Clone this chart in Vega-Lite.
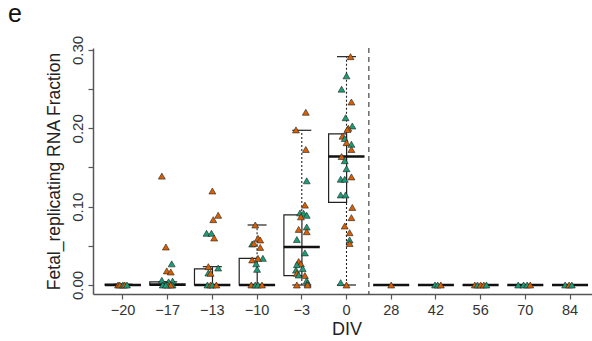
{
  "$schema": "https://vega.github.io/schema/vega-lite/v6.json",
  "width": 499,
  "height": 246,
  "autosize": {"type": "none"},
  "padding": {"left": 93, "top": 48, "right": 0, "bottom": 47},
  "background": "white",
  "title": {"text": "e", "anchor": "start", "frame": "group", "dx": -85, "offset": -12, "baseline": "alphabetic", "fontSize": 25, "font": "Liberation Sans", "fontWeight": "normal", "color": "#111"},
  "config": {
    "view": {"stroke": null},
    "axis": {"domainColor": "#555", "domainWidth": 1.5, "tickColor": "#555", "tickWidth": 1.2, "tickSize": 5, "grid": false, "labelFont": "Liberation Sans", "titleFont": "Liberation Sans", "labelColor": "#333", "titleColor": "#222", "titleFontWeight": "normal"}
  },
  "datasets": {
    "boxes": [
      {"DIV": "-20", "lo": 0, "q1": 0, "med": 0, "q3": 0.001, "hi": 0.001},
      {"DIV": "-17", "lo": 0, "q1": 0, "med": 0.0005, "q3": 0.004, "hi": 0.004},
      {"DIV": "-13", "lo": 0, "q1": 0, "med": 0, "q3": 0.0205, "hi": 0.0234},
      {"DIV": "-10", "lo": 0, "q1": 0, "med": 0, "q3": 0.034, "hi": 0.0766},
      {"DIV": "-3", "lo": 0, "q1": 0.0119, "med": 0.0485, "q3": 0.0894, "hi": 0.1975},
      {"DIV": "0", "lo": 0, "q1": 0.1056, "med": 0.164, "q3": 0.193, "hi": 0.2915},
      {"DIV": "28", "lo": 0, "q1": 0, "med": 0, "q3": 0, "hi": 0},
      {"DIV": "42", "lo": 0, "q1": 0, "med": 0, "q3": 0, "hi": 0},
      {"DIV": "56", "lo": 0, "q1": 0, "med": 0, "q3": 0, "hi": 0},
      {"DIV": "70", "lo": 0, "q1": 0, "med": 0, "q3": 0, "hi": 0},
      {"DIV": "84", "lo": 0, "q1": 0, "med": 0, "q3": 0, "hi": 0}
    ],
    "divider": [{"DIV": "0"}],
    "points": [
      {"DIV": "-20", "frac": 0, "line": "o", "jit": -0.11},
      {"DIV": "-20", "frac": 0, "line": "o", "jit": -0.07},
      {"DIV": "-20", "frac": 0, "line": "t", "jit": 0},
      {"DIV": "-20", "frac": 0, "line": "o", "jit": 0.04},
      {"DIV": "-20", "frac": 0, "line": "t", "jit": 0.09},
      {"DIV": "-17", "frac": 0.139, "line": "o", "jit": -0.13},
      {"DIV": "-17", "frac": 0.0485, "line": "o", "jit": -0.04},
      {"DIV": "-17", "frac": 0.027, "line": "t", "jit": 0.09},
      {"DIV": "-17", "frac": 0.018, "line": "o", "jit": -0.02},
      {"DIV": "-17", "frac": 0.0166, "line": "o", "jit": 0.07},
      {"DIV": "-17", "frac": 0.006, "line": "t", "jit": -0.13},
      {"DIV": "-17", "frac": 0.005, "line": "t", "jit": 0.11},
      {"DIV": "-17", "frac": 0.004, "line": "t", "jit": 0.02},
      {"DIV": "-17", "frac": 0, "line": "t", "jit": -0.11},
      {"DIV": "-17", "frac": 0, "line": "o", "jit": 0},
      {"DIV": "-17", "frac": 0, "line": "t", "jit": 0.11},
      {"DIV": "-17", "frac": 0, "line": "o", "jit": 0.07},
      {"DIV": "-17", "frac": 0, "line": "t", "jit": -0.04},
      {"DIV": "-13", "frac": 0.12, "line": "o", "jit": 0},
      {"DIV": "-13", "frac": 0.089, "line": "o", "jit": 0.13},
      {"DIV": "-13", "frac": 0.0834, "line": "o", "jit": 0.02},
      {"DIV": "-13", "frac": 0.066, "line": "t", "jit": -0.13},
      {"DIV": "-13", "frac": 0.066, "line": "t", "jit": -0.02},
      {"DIV": "-13", "frac": 0.06, "line": "o", "jit": 0.04},
      {"DIV": "-13", "frac": 0.0234, "line": "o", "jit": -0.09},
      {"DIV": "-13", "frac": 0.0217, "line": "t", "jit": 0.13},
      {"DIV": "-13", "frac": 0.0153, "line": "t", "jit": -0.09},
      {"DIV": "-13", "frac": 0.015, "line": "o", "jit": -0.04},
      {"DIV": "-13", "frac": 0, "line": "t", "jit": -0.11},
      {"DIV": "-13", "frac": 0, "line": "o", "jit": -0.04},
      {"DIV": "-13", "frac": 0, "line": "t", "jit": 0},
      {"DIV": "-13", "frac": 0, "line": "o", "jit": 0.09},
      {"DIV": "-10", "frac": 0.0766, "line": "o", "jit": -0.04},
      {"DIV": "-10", "frac": 0.0596, "line": "o", "jit": 0.02},
      {"DIV": "-10", "frac": 0.0575, "line": "o", "jit": 0.07},
      {"DIV": "-10", "frac": 0.0523, "line": "t", "jit": -0.11},
      {"DIV": "-10", "frac": 0.053, "line": "o", "jit": -0.07},
      {"DIV": "-10", "frac": 0.048, "line": "o", "jit": 0.07},
      {"DIV": "-10", "frac": 0.032, "line": "o", "jit": -0.11},
      {"DIV": "-10", "frac": 0.034, "line": "t", "jit": 0.13},
      {"DIV": "-10", "frac": 0.034, "line": "o", "jit": 0.02},
      {"DIV": "-10", "frac": 0.027, "line": "t", "jit": -0.02},
      {"DIV": "-10", "frac": 0.02, "line": "t", "jit": 0},
      {"DIV": "-10", "frac": 0, "line": "o", "jit": -0.13},
      {"DIV": "-10", "frac": 0, "line": "t", "jit": -0.04},
      {"DIV": "-10", "frac": 0, "line": "t", "jit": 0.02},
      {"DIV": "-10", "frac": 0, "line": "o", "jit": 0.11},
      {"DIV": "-3", "frac": 0.2205, "line": "o", "jit": 0.09},
      {"DIV": "-3", "frac": 0.198, "line": "o", "jit": -0.13},
      {"DIV": "-3", "frac": 0.173, "line": "o", "jit": 0.09},
      {"DIV": "-3", "frac": 0.133, "line": "t", "jit": 0.11},
      {"DIV": "-3", "frac": 0.102, "line": "o", "jit": 0.07},
      {"DIV": "-3", "frac": 0.092, "line": "t", "jit": -0.04},
      {"DIV": "-3", "frac": 0.0915, "line": "t", "jit": 0.04},
      {"DIV": "-3", "frac": 0.089, "line": "t", "jit": 0.11},
      {"DIV": "-3", "frac": 0.087, "line": "o", "jit": -0.02},
      {"DIV": "-3", "frac": 0.074, "line": "t", "jit": 0.11},
      {"DIV": "-3", "frac": 0.071, "line": "o", "jit": -0.07},
      {"DIV": "-3", "frac": 0.068, "line": "o", "jit": 0.11},
      {"DIV": "-3", "frac": 0.058, "line": "t", "jit": -0.11},
      {"DIV": "-3", "frac": 0.041, "line": "t", "jit": 0.07},
      {"DIV": "-3", "frac": 0.03, "line": "o", "jit": -0.07},
      {"DIV": "-3", "frac": 0.027, "line": "o", "jit": -0.02},
      {"DIV": "-3", "frac": 0.026, "line": "t", "jit": -0.11},
      {"DIV": "-3", "frac": 0.021, "line": "t", "jit": 0.02},
      {"DIV": "-3", "frac": 0.019, "line": "t", "jit": -0.13},
      {"DIV": "-3", "frac": 0.015, "line": "o", "jit": -0.11},
      {"DIV": "-3", "frac": 0.0128, "line": "t", "jit": -0.07},
      {"DIV": "-3", "frac": 0.012, "line": "o", "jit": 0.07},
      {"DIV": "-3", "frac": 0.0055, "line": "t", "jit": 0.11},
      {"DIV": "-3", "frac": 0.002, "line": "t", "jit": 0.13},
      {"DIV": "-3", "frac": 0, "line": "o", "jit": -0.11},
      {"DIV": "-3", "frac": 0, "line": "o", "jit": 0.13},
      {"DIV": "0", "frac": 0.2915, "line": "o", "jit": 0.09},
      {"DIV": "0", "frac": 0.267, "line": "t", "jit": 0},
      {"DIV": "0", "frac": 0.25, "line": "t", "jit": -0.11},
      {"DIV": "0", "frac": 0.2336, "line": "o", "jit": 0.11},
      {"DIV": "0", "frac": 0.2136, "line": "t", "jit": -0.02},
      {"DIV": "0", "frac": 0.203, "line": "t", "jit": 0.13},
      {"DIV": "0", "frac": 0.2, "line": "o", "jit": 0.04},
      {"DIV": "0", "frac": 0.1985, "line": "o", "jit": 0.02},
      {"DIV": "0", "frac": 0.19, "line": "o", "jit": -0.09},
      {"DIV": "0", "frac": 0.187, "line": "t", "jit": -0.04},
      {"DIV": "0", "frac": 0.1817, "line": "o", "jit": 0},
      {"DIV": "0", "frac": 0.1796, "line": "t", "jit": 0.11},
      {"DIV": "0", "frac": 0.173, "line": "o", "jit": 0.11},
      {"DIV": "0", "frac": 0.164, "line": "o", "jit": -0.11},
      {"DIV": "0", "frac": 0.1587, "line": "t", "jit": -0.04},
      {"DIV": "0", "frac": 0.1485, "line": "t", "jit": 0},
      {"DIV": "0", "frac": 0.135, "line": "t", "jit": -0.13},
      {"DIV": "0", "frac": 0.135, "line": "t", "jit": -0.04},
      {"DIV": "0", "frac": 0.138, "line": "o", "jit": 0.11},
      {"DIV": "0", "frac": 0.115, "line": "t", "jit": -0.13},
      {"DIV": "0", "frac": 0.115, "line": "t", "jit": -0.02},
      {"DIV": "0", "frac": 0.099, "line": "o", "jit": 0.13},
      {"DIV": "0", "frac": 0.086, "line": "o", "jit": 0.11},
      {"DIV": "0", "frac": 0.0753, "line": "o", "jit": -0.04},
      {"DIV": "0", "frac": 0.0668, "line": "o", "jit": 0.07},
      {"DIV": "0", "frac": 0.0575, "line": "t", "jit": 0.07},
      {"DIV": "0", "frac": 0.053, "line": "o", "jit": 0.07},
      {"DIV": "0", "frac": 0.003, "line": "t", "jit": -0.13},
      {"DIV": "0", "frac": 0, "line": "o", "jit": 0},
      {"DIV": "28", "frac": 0, "line": "o", "jit": 0},
      {"DIV": "42", "frac": 0, "line": "t", "jit": -0.02},
      {"DIV": "42", "frac": 0, "line": "t", "jit": 0.04},
      {"DIV": "42", "frac": 0, "line": "o", "jit": 0.11},
      {"DIV": "56", "frac": 0, "line": "o", "jit": -0.13},
      {"DIV": "56", "frac": 0, "line": "t", "jit": -0.07},
      {"DIV": "56", "frac": 0, "line": "o", "jit": 0},
      {"DIV": "56", "frac": 0, "line": "o", "jit": 0.07},
      {"DIV": "56", "frac": 0, "line": "t", "jit": 0.13},
      {"DIV": "70", "frac": 0, "line": "t", "jit": -0.16},
      {"DIV": "70", "frac": 0, "line": "t", "jit": -0.04},
      {"DIV": "70", "frac": 0, "line": "t", "jit": 0.04},
      {"DIV": "70", "frac": 0, "line": "o", "jit": 0.11},
      {"DIV": "84", "frac": 0, "line": "t", "jit": -0.11},
      {"DIV": "84", "frac": 0, "line": "o", "jit": -0.02},
      {"DIV": "84", "frac": 0, "line": "t", "jit": 0.04}
    ]
  },
  "encoding": {
    "x": {
      "field": "DIV", "type": "ordinal",
      "sort": ["-20", "-17", "-13", "-10", "-3", "0", "28", "42", "56", "70", "84"],
      "scale": {"domain": ["-20", "-17", "-13", "-10", "-3", "0", "28", "42", "56", "70", "84"], "range": [0, 507], "paddingInner": 0, "paddingOuter": 0.17},
      "axis": {"title": "DIV", "labelAngle": 0, "labelFontSize": 14.5, "labelPadding": 4, "labelExpr": "replace(datum.label, '-', '\u2212')", "titleFontSize": 18, "titleX": 253.5, "titleY": 26, "titleBaseline": "top", "titleAlign": "center"}
    }
  },
  "layer": [
    {
      "data": {"name": "boxes"},
      "mark": {"type": "rule", "strokeDash": [2, 2], "color": "#222", "strokeWidth": 1.1},
      "encoding": {
        "y": {"field": "q3", "type": "quantitative", "scale": {"domain": [-0.01149, 0.30255], "nice": false, "zero": false},
          "axis": {"title": "Fetal_replicating RNA Fraction", "values": [0, 0.05, 0.1, 0.15, 0.2, 0.25, 0.3], "labelExpr": "round(datum.value*100) % 10 == 0 ? format(datum.value, '.2f') : ''", "labelAngle": 270, "labelAlign": "center", "labelBaseline": "alphabetic", "labelPadding": 6, "labelFontSize": 15, "titleFontSize": 17.5, "titleAngle": 270, "titleX": -33.5, "titleY": 123, "titleAlign": "center", "titleBaseline": "alphabetic"}},
        "y2": {"field": "hi"}
      }
    },
    {
      "data": {"name": "boxes"},
      "mark": {"type": "rule", "strokeDash": [2, 2], "color": "#222", "strokeWidth": 1.1},
      "encoding": {"y": {"field": "lo", "type": "quantitative"}, "y2": {"field": "q1"}}
    },
    {
      "data": {"name": "boxes"},
      "mark": {"type": "tick", "color": "#222", "size": 19, "thickness": 1.2, "opacity": 1},
      "encoding": {"y": {"field": "hi", "type": "quantitative"}}
    },
    {
      "data": {"name": "boxes"},
      "mark": {"type": "tick", "color": "#222", "size": 19, "thickness": 1.2, "opacity": 1},
      "encoding": {"y": {"field": "lo", "type": "quantitative"}}
    },
    {
      "data": {"name": "boxes"},
      "mark": {"type": "bar", "fill": "white", "stroke": "#222", "strokeWidth": 1.2, "width": {"band": 0.8}},
      "encoding": {"y": {"field": "q1", "type": "quantitative"}, "y2": {"field": "q3"}}
    },
    {
      "data": {"name": "boxes"},
      "mark": {"type": "tick", "color": "#111", "size": 36, "thickness": 2.6, "opacity": 1},
      "encoding": {"y": {"field": "med", "type": "quantitative"}}
    },
    {
      "data": {"name": "points"},
      "mark": {"type": "point", "shape": "triangle-up", "filled": true, "size": 48, "stroke": "#222", "strokeWidth": 0.6, "opacity": 1},
      "encoding": {
        "y": {"field": "frac", "type": "quantitative"},
        "xOffset": {"field": "jit", "type": "quantitative", "scale": {"domain": [-0.5, 0.5]}},
        "color": {"field": "line", "type": "nominal", "scale": {"domain": ["o", "t"], "range": ["#D95F02", "#1B9E77"]}, "legend": null}
      }
    },
    {
      "data": {"name": "divider"},
      "mark": {"type": "rule", "strokeDash": [5, 4], "color": "#444", "strokeWidth": 1.2},
      "encoding": {"x": {"field": "DIV", "type": "ordinal", "bandPosition": 1}}
    },
    {
      "mark": {"type": "rule", "color": "#555", "strokeWidth": 1.5},
      "encoding": {"y": {"datum": 0.30255}}
    }
  ]
}
